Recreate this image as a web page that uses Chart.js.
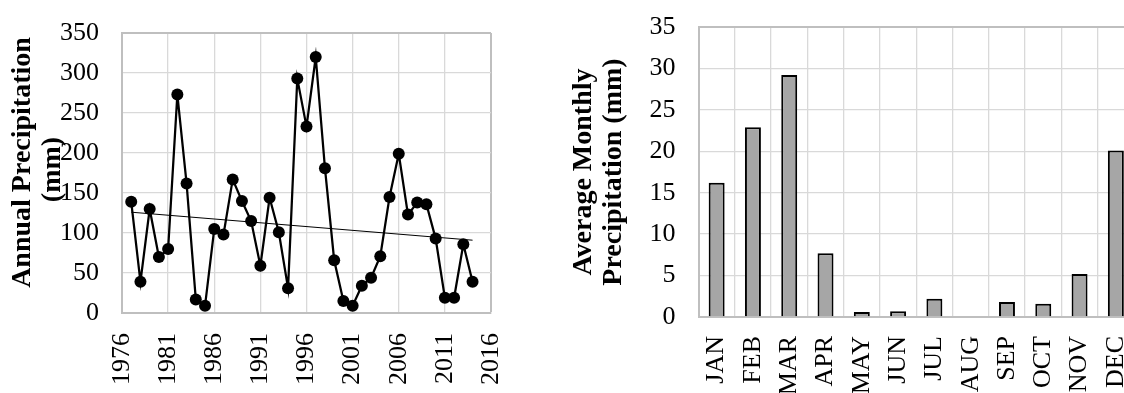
<!DOCTYPE html>
<html>
<head>
<meta charset="utf-8">
<script src="https://cdn.jsdelivr.net/npm/chart.js@4.4.0/dist/chart.umd.min.js"></script>
<style>
  html, body { margin: 0; padding: 0; background: #fff; overflow: hidden; width: 1124px; height: 393px; }
  #annualBox { position: absolute; left: 0; top: 0; width: 540px; height: 393px; }
  #monthlyBox { position: absolute; left: 540px; top: 0; width: 600px; height: 393px; }
</style>
</head>
<body>
<div id="annualBox"><canvas id="annualChart"></canvas></div>
<div id="monthlyBox"><canvas id="monthlyChart"></canvas></div>
<script>
// annual totals, 1977-2014
const years = [1977, 1978, 1979, 1980, 1981, 1982, 1983, 1984, 1985, 1986,
  1987, 1988, 1989, 1990, 1991, 1992, 1993, 1994, 1995, 1996,
  1997, 1998, 1999, 2000, 2001, 2002, 2003, 2004, 2005, 2006,
  2007, 2008, 2009, 2010, 2011, 2012, 2013, 2014];
const annualPrecip = [139, 39, 130, 70, 80, 273, 162, 17, 9, 105,
  98, 167, 140, 115, 59, 144, 101, 31, 293, 233,
  320, 181, 66, 15, 9, 34, 44, 71, 145, 199,
  123, 138, 136, 93, 19, 19, 86, 39];

// linear trend end points
const trendYears = [1977, 2014];
const trendValues = [126, 91];

// monthly means
const months = ['JAN', 'FEB', 'MAR', 'APR', 'MAY', 'JUN', 'JUL', 'AUG', 'SEP', 'OCT', 'NOV', 'DEC'];
const monthlyPrecip = [16.2, 22.9, 29.2, 7.7, 0.6, 0.7, 2.2, 0.1, 1.8, 1.6, 5.2, 20.1];

const serif = "'Liberation Serif', 'Times New Roman', serif";
const tickFont = { family: serif, size: 26 };
const titleFont = { family: serif, size: 28, weight: 'bold', lineHeight: 1.1 };
const gridColor = '#d9d9d9';
const frameColor = '#bfbfbf';

// fixed axis boxes; the plot area is set by layout padding only
function fixWidth(w) {
  return s => { s.width = w; s.paddingTop = 0; s.paddingBottom = 0; };
}
function fixHeight(h) {
  return s => { s.height = h; s.paddingLeft = 0; s.paddingRight = 0; };
}

new Chart(document.getElementById('annualChart'), {
  type: 'line',
  data: {
    datasets: [
      {
        data: years.map((y, i) => ({ x: y, y: annualPrecip[i] })),
        borderColor: '#000',
        borderWidth: 2.25,
        pointRadius: 6,
        pointBackgroundColor: '#000',
        pointBorderWidth: 0,
        tension: 0
      },
      {
        data: trendYears.map((y, i) => ({ x: y, y: trendValues[i] })),
        borderColor: '#000',
        borderWidth: 1,
        pointRadius: 0
      }
    ]
  },
  options: {
    responsive: true,
    maintainAspectRatio: false,
    animation: false,
    layout: { padding: { top: 33, right: 49, left: 0, bottom: 0 } },
    plugins: { legend: { display: false }, tooltip: { enabled: false } },
    scales: {
      x: {
        type: 'linear',
        min: 1976,
        max: 2016,
        afterFit: fixHeight(80),
        ticks: {
          stepSize: 5,
          minRotation: 90,
          maxRotation: 90,
          padding: 20,
          color: '#000',
          font: tickFont,
          callback: v => String(v)
        },
        grid: {
          drawTicks: false,
          color: c => (c.tick && c.tick.value === 2016 ? frameColor : gridColor),
          lineWidth: c => (c.tick && c.tick.value === 2016 ? 2 : 1.3)
        },
        border: { color: frameColor, width: 2 }
      },
      y: {
        min: 0,
        max: 350,
        afterFit: fixWidth(122),
        ticks: { stepSize: 50, padding: 23, color: '#000', font: tickFont },
        grid: {
          drawTicks: false,
          color: c => (c.tick && c.tick.value === 350 ? frameColor : gridColor),
          lineWidth: c => (c.tick && c.tick.value === 350 ? 2 : 1.3)
        },
        border: { color: frameColor, width: 2 },
        title: {
          display: true,
          // leading no-break spaces nudge the centred lines upward
          text: ['\u00a0\u00a0\u00a0Annual Precipitation', '\u00a0(mm)'],
          color: '#000',
          font: titleFont,
          padding: { top: 7, bottom: 0 }
        }
      }
    }
  }
});

new Chart(document.getElementById('monthlyChart'), {
  type: 'bar',
  data: {
    labels: months,
    datasets: [{
      data: monthlyPrecip,
      backgroundColor: '#a6a6a6',
      borderColor: '#000',
      borderWidth: 2,
      barPercentage: 0.44,
      categoryPercentage: 1
    }]
  },
  options: {
    responsive: true,
    maintainAspectRatio: false,
    animation: false,
    layout: { padding: { top: 27, right: 6, left: 0, bottom: 0 } },
    plugins: { legend: { display: false }, tooltip: { enabled: false } },
    scales: {
      x: {
        afterFit: fixHeight(76),
        ticks: {
          minRotation: 90,
          maxRotation: 90,
          padding: 19,
          color: '#000',
          font: tickFont
        },
        grid: { drawTicks: false, color: gridColor, lineWidth: 1.3 },
        border: { color: frameColor, width: 2 }
      },
      y: {
        min: 0,
        max: 35,
        afterFit: fixWidth(158.5),
        ticks: { stepSize: 5, padding: 23, color: '#000', font: tickFont },
        grid: {
          drawTicks: false,
          color: c => (c.tick && c.tick.value === 35 ? frameColor : gridColor),
          lineWidth: c => (c.tick && c.tick.value === 35 ? 2 : 1.3)
        },
        border: { color: frameColor, width: 2 },
        title: {
          display: true,
          text: ['Average Monthly', 'Precipitation (mm)'],
          color: '#000',
          font: titleFont,
          padding: { top: 28, bottom: 0 }
        }
      }
    }
  }
});
</script>
</body>
</html>
